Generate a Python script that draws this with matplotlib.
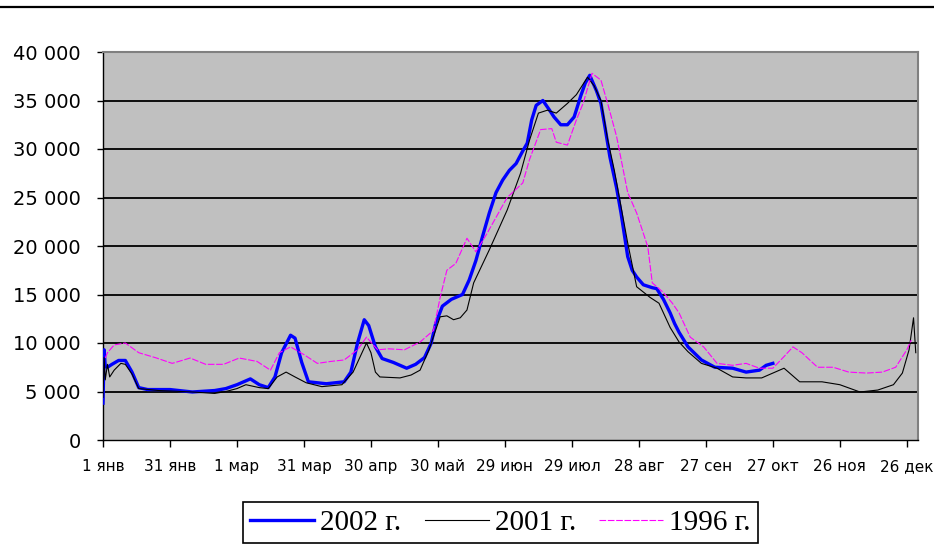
import numpy as np
import matplotlib.pyplot as plt
from matplotlib.lines import Line2D
from matplotlib.ticker import FuncFormatter

# 2002 г. (день от 1 янв, значение)
days_2002 = [0, 0.5, 1, 2, 4, 7, 10, 13, 16, 20, 30, 40, 50, 55, 60, 66, 70, 74, 77, 80,
             84, 86, 89, 92, 100, 108, 111, 114, 117, 119, 122, 125, 130, 136, 140, 144,
             147, 149, 152, 156, 161, 164, 167, 170, 173, 176, 179, 182, 185, 188, 190,
             192, 194, 197, 200, 202, 205, 208, 211, 214, 216, 218, 221, 223, 225, 227,
             230, 232, 235, 237, 239, 242, 246, 248, 251, 254, 256, 258, 262, 268, 274,
             282, 288, 294, 297, 300]
vals_2002 = [3800, 9300, 7600, 7500, 7800, 8200, 8200, 7000, 5400, 5200, 5200, 4950, 5100,
             5300, 5700, 6300, 5700, 5400, 6500, 9000, 10800, 10500, 8000, 6000, 5800, 6000,
             7000, 10000, 12400, 11800, 9600, 8400, 8000, 7400, 7800, 8500, 10000, 12000,
             13800, 14500, 15000, 16500, 18500, 21000, 23400, 25500, 26800, 27800, 28500,
             29800, 30600, 33000, 34500, 35000, 34000, 33300, 32500, 32500, 33300, 35500,
             36800, 37600, 36000, 34700, 32000, 29200, 26000, 23400, 18900, 17500, 16800,
             16000, 15700, 15600, 14500, 13100, 12000, 11100, 9600, 8250, 7500, 7400, 7000,
             7200, 7700, 7900]

# 2001 г.
days_2001 = [0, 0.5, 1, 2, 3, 5, 8, 10, 13, 16, 25, 40, 50, 55, 60, 64, 70, 74, 78, 82, 86,
             91, 98, 107, 112, 115, 118, 120, 122, 124, 133, 138, 142, 146, 151, 154, 157,
             160, 163, 166, 173, 181, 187, 191, 195, 199, 203, 208, 212, 217, 220, 223, 226,
             229, 235, 239, 245, 249, 254, 258, 262, 268, 275, 282, 288, 295, 300, 305, 312,
             322, 330, 339, 347, 354, 358, 361, 363, 364]
vals_2001 = [4400, 8500, 6200, 7800, 6500, 7200, 7900, 7800, 6800, 5300, 5100, 4950, 4800,
             5000, 5300, 5700, 5400, 5300, 6500, 7000, 6500, 5900, 5500, 5700, 7000, 8500,
             10000, 9000, 7000, 6500, 6400, 6700, 7200, 9300, 12700, 12800, 12400, 12600,
             13400, 16200, 19600, 23700, 27500, 30900, 33700, 34000, 33700, 34700, 35600,
             37400, 36500, 35000, 31000, 27800, 20300, 15800, 14700, 14100, 11600, 10100,
             9100, 7900, 7400, 6500, 6400, 6400, 6900, 7400, 6000, 6000, 5700, 4950, 5150,
             5700, 6900, 9300, 12600, 9000]

# 1996 г.
days_1996 = [1, 2, 5, 10, 16, 24, 31, 39, 46, 54, 61, 69, 75, 79, 84, 90, 96, 102, 108, 114,
             118, 123, 128, 135, 142, 148, 151, 154, 158, 163, 167, 172, 181, 188, 191, 196,
             201, 203, 208, 212, 215, 219, 223, 226, 230, 235, 239, 244, 246, 251, 255, 258,
             263, 269, 275, 282, 288, 294, 300, 305, 309, 313, 320, 327, 334, 342, 349, 355,
             360, 362]
vals_1996 = [8450, 9000, 9800, 10000, 9000, 8450, 7900, 8450, 7800, 7800, 8450, 8100, 7200,
             9000, 9600, 8800, 7900, 8100, 8250, 9300, 10600, 9300, 9400, 9300, 10100, 11300,
             14700, 17500, 18200, 20800, 19400, 21300, 25000, 26500, 28900, 32000, 32100,
             30700, 30400, 33000, 34700, 37800, 37100, 34700, 31300, 25500, 23400, 19900,
             16200, 15200, 14100, 13100, 10600, 9600, 7900, 7700, 7900, 7400, 7400, 8600,
             9600, 9000, 7500, 7500, 7000, 6900, 7000, 7500, 9300, 10300]

tick_days = [0, 30, 60, 90, 120, 150, 180, 210, 240, 270, 300, 330, 360]
tick_labels = ['1 янв', '31 янв', '1 мар', '31 мар', '30 апр', '30 май', '29 июн',
               '29 июл', '28 авг', '27 сен', '27 окт', '26 ноя', '26 дек']

fig = plt.figure(figsize=(9.34, 5.44), dpi=100)
ax = fig.add_axes([103/934, 104/544, 815/934, 388/544])
ax.set_facecolor('#c0c0c0')

for y in range(5000, 40000, 5000):
    ax.axhline(y, color='black', lw=1.3, zorder=1)

ax.plot(days_2002, vals_2002, color='#0000ff', lw=2.4, zorder=3, label='2002 г.')
ax.plot(days_2001, vals_2001, color='black', lw=0.8, zorder=4, label='2001 г.')
ax.plot(days_1996, vals_1996, color='#ff00ff', lw=0.8, ls=(0, (6, 1.5)), zorder=5,
        label='1996 г.')

ax.set_xlim(0, 365)
ax.set_ylim(0, 40000)
ax.set_yticks(range(0, 40001, 5000))
ax.yaxis.set_major_formatter(FuncFormatter(lambda v, p: f'{int(v):,}'.replace(',', ' ')))
ax.set_xticks(tick_days)
ax.set_xticklabels(tick_labels)
ax.tick_params(axis='y', labelsize=14, length=4, width=1, pad=12)
ax.tick_params(axis='x', labelsize=11, length=5, width=1, pad=9)

for s in ['top', 'right']:
    ax.spines[s].set_color('#808080')
    ax.spines[s].set_linewidth(1.5)
for s in ['left', 'bottom']:
    ax.spines[s].set_color('black')
    ax.spines[s].set_linewidth(1)

fig.add_artist(Line2D([0, 1], [1 - 7/544, 1 - 7/544], color='black', lw=1.6,
                      transform=fig.transFigure))

leg = fig.legend(loc='upper left', bbox_to_anchor=(243/934, 1 - 502/544), ncol=3,
                 prop={'family': 'Liberation Serif', 'size': 21}, frameon=True,
                 fancybox=False, edgecolor='black', framealpha=1, borderpad=0.25,
                 handlelength=2.2, handletextpad=0.2, columnspacing=0.8,
                 borderaxespad=0)
leg.get_frame().set_linewidth(1.2)

plt.savefig('out.png', dpi=100)
